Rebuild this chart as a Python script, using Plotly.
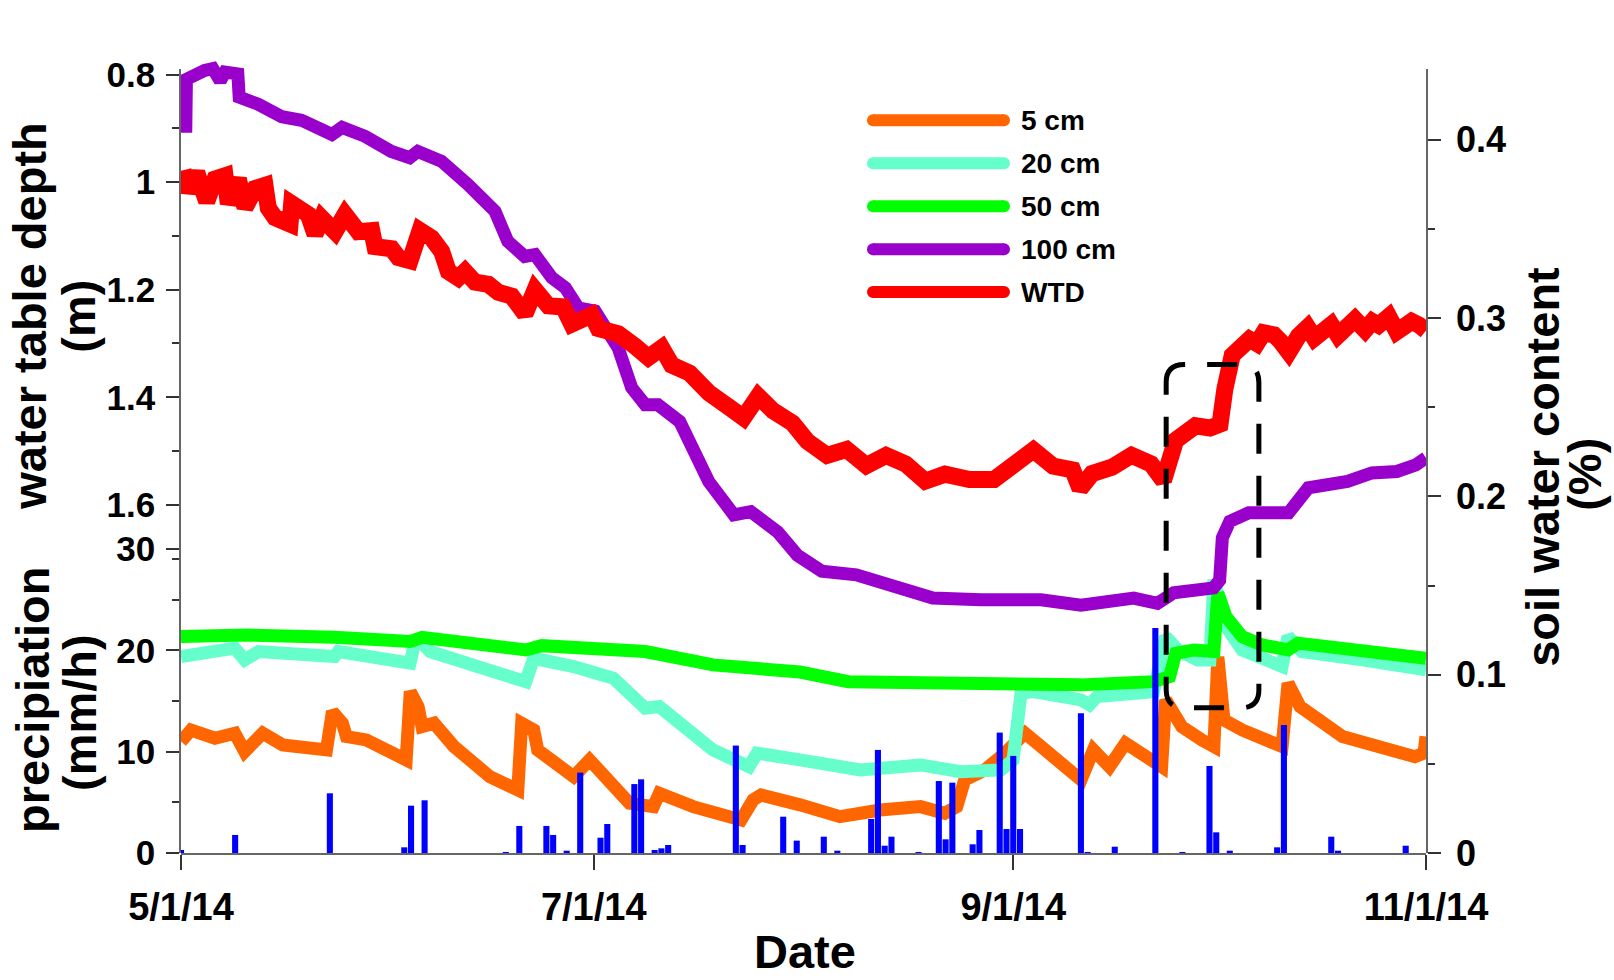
import plotly.graph_objects as go
import pandas as pd

# ---------------- data (x values are days since 2014-05-01) ----------------
START = pd.Timestamp("2014-05-01")
END = pd.Timestamp("2014-11-01")

swc5_day = [0, 1.48, 5.01, 7.95, 9.41, 12.08, 15.02, 21.5, 22.38, 23.85, 24.45, 27.39, 33.28, 33.88,
            35.04, 35.62, 37.39, 40.35, 45.65, 49.78, 50.35, 52.13, 52.72, 55.66, 58.03, 60.38, 66.27,
            69.81, 70.69, 75.69, 82.77, 84.54, 85.72, 91.49, 97.4, 103.31, 109.3, 112.86, 114.65,
            115.83, 118.8, 121.77, 124.74, 127.11, 133.02, 134.84, 137.22, 139.58, 142.55, 144.93,
            145.52, 147.9, 150.87, 152.65, 153.24, 154.14, 156.82, 162.73, 163.61, 165.39, 171.66,
            182.35, 183.7, 184.0]
swc5_val = [0.0625, 0.069, 0.0644, 0.0672, 0.0569, 0.0672, 0.0606, 0.0578, 0.0793, 0.0728, 0.0653,
            0.0634, 0.0522, 0.0905, 0.0821, 0.0709, 0.0728, 0.0597, 0.0428, 0.0354, 0.0728, 0.069,
            0.0578, 0.0503, 0.0428, 0.0522, 0.0279, 0.026, 0.0335, 0.026, 0.0185, 0.0297, 0.0325,
            0.027, 0.0204, 0.0241, 0.026, 0.0223, 0.026, 0.041, 0.0466, 0.056, 0.0672, 0.0597, 0.041,
            0.0578, 0.0484, 0.0616, 0.054, 0.0484, 0.0859, 0.0709, 0.0634, 0.0597, 0.110, 0.0746,
            0.069, 0.0597, 0.0952, 0.0821, 0.0653, 0.054, 0.056, 0.0653]

swc20_day = [0, 7.95, 9.41, 11.48, 22.67, 23.26, 33.85, 34.73, 36.8, 50.95, 52.13, 58.03, 63.91, 68.62,
             70.69, 78.63, 83.95, 85.13, 91.49, 100.4, 109.3, 115.24, 121.18, 122.97, 124.15, 125.92,
             133.02, 134.25, 135.38, 143.73, 145.52, 147.31, 150.27, 152.06, 152.65, 154.44, 156.82,
             162.73, 163.61, 165.68, 174.62, 184.0]
swc20_val = [0.1102, 0.1149, 0.1083, 0.113, 0.1102, 0.113, 0.1065, 0.1214, 0.113, 0.0961, 0.1092,
             0.1046, 0.098, 0.0812, 0.0821, 0.0578, 0.0484, 0.056, 0.0522, 0.0466, 0.0494, 0.0456,
             0.0466, 0.0522, 0.0896, 0.0905, 0.0859, 0.0831, 0.0877, 0.0905, 0.1214, 0.1139, 0.1083,
             0.1083, 0.1532, 0.127, 0.1139, 0.1046, 0.1214, 0.113, 0.1083, 0.1027]

swc50_day = [0, 7.95, 9.71, 22.67, 33.85, 35.62, 50.95, 53.31, 68.62, 78.63, 91.49, 98.61, 115.24,
             124.74, 133.02, 143.73, 146.11, 147.01, 149.67, 152.65, 153.24, 154.44, 156.82, 159.78,
             163.61, 165.09, 171.66, 177.6, 184.0]
swc50_val = [0.1214, 0.1236, 0.1223, 0.121, 0.1186, 0.121, 0.1139, 0.1163, 0.113, 0.1055, 0.1015,
             0.0961, 0.0952, 0.0943, 0.0943, 0.0961, 0.0989, 0.112, 0.1139, 0.113, 0.1457, 0.1326,
             0.1214, 0.1167, 0.1139, 0.1177, 0.1149, 0.112, 0.1092]

swc100_day = [0.7, 0.8, 3.5, 4.7, 5.8, 6.5, 8.4, 8.6, 11.4, 14.9, 17.8, 22.3, 23.8, 27.2, 31.1, 33.8,
              35.0, 38.5, 42.4, 46.4, 48.3, 50.8, 52.3, 54.8, 56.8, 58.7, 61.2, 64.6, 66.6, 68.6,
              70.5, 73.7, 78.0, 81.7, 84.2, 88.2, 91.1, 94.7, 99.8, 103.3, 111.1, 118.2, 127.1, 133.0,
              140.8, 144.3, 146.7, 152.6, 153.5, 153.9, 155.0, 157.8, 163.7, 166.6, 172.4, 176.0,
              179.7, 182.5, 184.0]
swc100_val = [0.404, 0.434, 0.439, 0.440, 0.433, 0.438, 0.437, 0.424, 0.420, 0.413, 0.411, 0.403,
              0.407, 0.402, 0.3935, 0.390, 0.3935, 0.388, 0.375, 0.360, 0.343, 0.3346, 0.3356, 0.3227,
              0.317, 0.3058, 0.304, 0.2834, 0.261, 0.2514, 0.2514, 0.242, 0.2083, 0.1897, 0.1915,
              0.180, 0.167, 0.158, 0.156, 0.1515, 0.143, 0.142, 0.142, 0.139, 0.143, 0.140, 0.146,
              0.1487, 0.153, 0.1768, 0.186, 0.1908, 0.1908, 0.2048, 0.2084, 0.2132, 0.214, 0.2177,
              0.2216]

wtd_day = [0.3, 1.08, 2.32, 3.8, 5.03, 6.5, 6.99, 8.47, 9.46, 10.94, 12.41, 12.9, 13.89, 16.11, 16.36,
           18.81, 19.81, 20.8, 22.76, 24.24, 26.2, 28.19, 28.67, 31.14, 32.12, 33.85, 35.32, 37.05,
           38.53, 39.51, 40.98, 41.97, 43.45, 45.42, 46.9, 48.88, 50.84, 52.32, 54.29, 56.5, 57.74,
           60.7, 61.68, 64.63, 67.1, 69.07, 71.05, 72.52, 75.16, 78.04, 80.96, 83.14, 85.31, 87.5,
           90.39, 92.57, 95.48, 98.37, 101.29, 104.2, 107.09, 109.99, 112.9, 116.52, 120.16, 123.06,
           125.97, 128.88, 131.78, 132.87, 134.64, 137.59, 140.48, 143.36, 145.2, 147.01, 149.93,
           152.08, 153.56, 154.27, 155.36, 157.91, 159.0, 160.0, 161.54, 162.5, 163.71, 165.16,
           166.5, 167.5, 168.78, 170.0, 171.0, 172.42, 173.5, 175.0, 176.06, 177.0, 178.5, 179.68,
           180.5, 181.87, 183.0, 184.0]
wtd_val = [0.978, 1.018, 0.982, 1.036, 0.994, 0.988, 1.040, 0.994, 1.047, 1.012, 1.006, 1.048, 1.066,
           1.078, 1.040, 1.060, 1.097, 1.067, 1.092, 1.060, 1.092, 1.090, 1.120, 1.124, 1.140, 1.146,
           1.090, 1.104, 1.129, 1.166, 1.178, 1.166, 1.186, 1.190, 1.205, 1.212, 1.245, 1.200, 1.230,
           1.232, 1.264, 1.247, 1.272, 1.282, 1.305, 1.326, 1.308, 1.340, 1.355, 1.392, 1.418, 1.438,
           1.398, 1.425, 1.448, 1.482, 1.508, 1.497, 1.527, 1.508, 1.524, 1.556, 1.543, 1.553, 1.553,
           1.521, 1.498, 1.528, 1.535, 1.570, 1.542, 1.530, 1.508, 1.524, 1.555, 1.480, 1.453, 1.457,
           1.450, 1.385, 1.322, 1.292, 1.300, 1.280, 1.284, 1.296, 1.316, 1.286, 1.270, 1.290,
           1.278, 1.265, 1.285, 1.271, 1.255, 1.275, 1.259, 1.266, 1.250, 1.278, 1.268, 1.259,
           1.266, 1.276]

precip_day = [0, 8, 22, 33, 34, 36, 48, 50, 54, 55, 57, 59, 62, 63, 67, 68, 70, 71, 72, 82, 83, 89, 91,
              95, 97, 102, 103, 104, 105, 109, 112, 113, 114, 117, 118, 121, 122, 123, 124, 133, 134,
              138, 144, 148, 152, 153, 155, 162, 163, 170, 171, 181]
precip_val = [0.3, 1.78, 5.89, 0.56, 4.67, 5.2, 0.1, 2.67, 2.67, 1.78, 0.23, 7.93, 1.51, 2.86, 6.8,
              7.27, 0.3, 0.46, 0.79, 10.6, 0.79, 3.58, 1.22, 1.61, 0.23, 3.36, 10.17, 0.72, 1.61, 0.1,
              7.1, 1.35, 6.94, 0.86, 2.27, 11.88, 2.37, 9.58, 2.37, 13.8, 0.1, 0.62, 22.2, 0.1, 8.59,
              2.04, 0.23, 0.56, 12.64, 1.61, 0.23, 0.72]

series_names = ["5 cm", "20 cm", "50 cm", "100 cm", "WTD"]
series_colors = ["#FF6600", "#66FFCC", "#00FF00", "#9900CC", "#FF0000"]
precip_color = "#0000FF"

x_tick_dates = ["2014-05-01", "2014-07-01", "2014-09-01", "2014-11-01"]
x_tick_text = ["5/1/14", "7/1/14", "9/1/14", "11/1/14"]
depth_ticks = [0.8, 1.0, 1.2, 1.4, 1.6]
depth_tick_text = ["0.8", "1", "1.2", "1.4", "1.6"]
precip_ticks = [0, 10, 20, 30]
swc_ticks = [0, 0.1, 0.2, 0.3, 0.4]
swc_tick_text = ["0", "0.1", "0.2", "0.3", "0.4"]

# highlighted period (dashed box): days since start and soil water content
box_day = [145.6, 159.3]
box_swc = [0.0814, 0.274]

# ---------------- layout geometry (pixels) ----------------
W, H = 1614, 980
X_LEFT, X_RIGHT = 181, 1426          # 5/1/14 and 11/1/14
Y_BOTTOM = 853                       # zero line of precipitation / soil water axes
SWC_PX_PER_UNIT = 1782.0
SWC_AXIS_TOP = 0.44                  # visible right axis
SWC_DATA_TOP = 0.456                 # room so thick lines are not clipped
DEPTH_TOP_Y, DEPTH_PX_PER_M = 75.0, 537.5   # 0.8 m at y=75
DEPTH_AXIS_TOP_Y = 69.5
DEPTH_BOTTOM = 1.7
PRECIP_PX_PER_UNIT = 10.13
PRECIP_TOP = 30

MT = Y_BOTTOM - SWC_DATA_TOP * SWC_PX_PER_UNIT
MB = H - Y_BOTTOM
ML, MR = X_LEFT, W - X_RIGHT
PW, PH = W - ML - MR, H - MT - MB


def frac(y_pixel):
    return (Y_BOTTOM - y_pixel) / PH


depth_top_val = 0.8 - (DEPTH_TOP_Y - DEPTH_AXIS_TOP_Y) / DEPTH_PX_PER_M
depth_bottom_y = DEPTH_TOP_Y + (DEPTH_BOTTOM - 0.8) * DEPTH_PX_PER_M
DEPTH_DOMAIN = [frac(depth_bottom_y), frac(DEPTH_AXIS_TOP_Y)]
DEPTH_RANGE = [DEPTH_BOTTOM, depth_top_val]
PRECIP_DOMAIN = [0, frac(Y_BOTTOM - PRECIP_TOP * PRECIP_PX_PER_UNIT)]
SWC_VIS_DOMAIN = [0, frac(Y_BOTTOM - SWC_AXIS_TOP * SWC_PX_PER_UNIT)]


def to_dates(days):
    return [START + pd.Timedelta(days=d) for d in days]


def px(x_pixel, y_pixel):
    return (x_pixel - ML) / PW, (Y_BOTTOM - y_pixel) / PH


FONT = "Liberation Sans, Arial, Helvetica, sans-serif"
fig = go.Figure()

swc_days = [swc5_day, swc20_day, swc50_day, swc100_day]
swc_vals = [swc5_val, swc20_val, swc50_val, swc100_val]
for i in range(4):
    fig.add_trace(go.Scatter(x=to_dates(swc_days[i]), y=swc_vals[i], mode="lines",
                             line=dict(color=series_colors[i], width=13),
                             name=series_names[i], yaxis="y", showlegend=False))

fig.add_trace(go.Scatter(x=to_dates(wtd_day), y=wtd_val, mode="lines",
                         line=dict(color=series_colors[4], width=17),
                         name="WTD", yaxis="y2", showlegend=False))

fig.add_trace(go.Bar(x=to_dates(precip_day), y=precip_val, width=0.9 * 86400000,
                     marker=dict(color=precip_color, line=dict(width=0)),
                     yaxis="y3", showlegend=False, name="precipitation"))

# empty trace that carries the visible soil-water axis
fig.add_trace(go.Scatter(x=[], y=[], yaxis="y4", showlegend=False, hoverinfo="skip"))

TICKC = "#333333"
axis_common = dict(showgrid=False, zeroline=False, showline=True, linecolor="#666666",
                   linewidth=1.5, ticks="outside", tickcolor=TICKC, tickwidth=1.5,
                   ticklen=13)


def minor(t0, dt):
    return dict(ticks="outside", ticklen=7, tickcolor=TICKC, tickwidth=1.5,
                tick0=t0, dtick=dt, showgrid=False)


fig.update_layout(
    width=W, height=H,
    margin=dict(l=ML, r=MR, t=MT, b=MB, autoexpand=False),
    paper_bgcolor="white", plot_bgcolor="rgba(0,0,0,0)",
    font=dict(family=FONT, color="black"),
    showlegend=False,
    xaxis=dict(type="date", range=[START, END], tickvals=x_tick_dates, ticktext=x_tick_text,
               anchor="y", tickfont=dict(size=38, weight="bold", family=FONT),
               ticklabelstandoff=5, **{**axis_common, "ticklen": 15}),
    yaxis=dict(range=[0, SWC_DATA_TOP], domain=[0, 1], anchor="x", visible=False,
               showgrid=False, zeroline=False),
    yaxis4=dict(side="right", range=[0, SWC_AXIS_TOP], domain=SWC_VIS_DOMAIN, anchor="x",
                tickvals=swc_ticks, ticktext=swc_tick_text,
                tickfont=dict(size=36, weight="bold", family=FONT), ticklabelstandoff=8,
                minor=minor(0, 0.05), **axis_common),
    yaxis2=dict(side="left", range=DEPTH_RANGE, domain=DEPTH_DOMAIN, anchor="x",
                tickvals=depth_ticks, ticktext=depth_tick_text,
                tickfont=dict(size=35, weight="bold", family=FONT), ticklabelstandoff=4,
                minor=minor(0.8, 0.1), **axis_common),
    yaxis3=dict(side="left", range=[0, PRECIP_TOP], domain=PRECIP_DOMAIN, anchor="x",
                tickvals=precip_ticks,
                tickfont=dict(size=35, weight="bold", family=FONT), ticklabelstandoff=4,
                minor=minor(0, 5), **axis_common),
)

# ---------------- titles ----------------
titles = [
    ("water table depth", 30, 316, -90),
    ("(m)", 79, 317, -90),
    ("precipiation", 33, 700, -90),
    ("(mm/h)", 80, 713, -90),
    ("soil water content", 1543, 467, -90),
    ("(%)", 1585, 475, -90),
    ("Date", 805, 951, 0),
]
for text, xp, yp, ang in titles:
    ax_, ay_ = px(xp, yp)
    fig.add_annotation(text=text, xref="paper", yref="paper", x=ax_, y=ay_,
                       xanchor="center", yanchor="middle", showarrow=False, textangle=ang,
                       borderpad=0,
                       font=dict(size=47, weight="bold", family=FONT, color="black"))

# ---------------- legend (drawn manually) ----------------
legend_rows_y = [120.7, 163.5, 206.5, 249.5, 292.3]
for name, color, yrow in zip(series_names, series_colors, legend_rows_y):
    x0, y0 = px(873, yrow)
    x1, _ = px(1004, yrow)
    fig.add_shape(type="line", xref="paper", yref="paper", x0=x0, x1=x1, y0=y0, y1=y0,
                  line=dict(color=color, width=12))
    for cx in (873, 1004):
        a0, b0 = px(cx - 6, yrow + 6)
        a1, b1 = px(cx + 6, yrow - 6)
        fig.add_shape(type="circle", xref="paper", yref="paper", x0=a0, x1=a1, y0=b0, y1=b1,
                      fillcolor=color, line=dict(width=0))
    tx, ty = px(1019, yrow)
    fig.add_annotation(text=name, xref="paper", yref="paper", x=tx, y=ty, xanchor="left",
                       yanchor="middle", showarrow=False,
                       font=dict(size=28, weight="bold", family=FONT, color="black"))

# ---------------- dashed rounded box ----------------
def day_to_px(d):
    return X_LEFT + d / (END - START).days * PW


def swc_to_px(v):
    return Y_BOTTOM - v * SWC_PX_PER_UNIT


L, R = day_to_px(box_day[0]), day_to_px(box_day[1])
T, B = swc_to_px(box_swc[1]), swc_to_px(box_swc[0])
r = 18


def P(xp, yp):
    a, b = px(xp, yp)
    return f"{a:.5f},{b:.5f}"


path = (f"M {P(L, T + r)} Q {P(L, T)} {P(L + r, T)} L {P(R - r, T)} Q {P(R, T)} {P(R, T + r)} "
        f"L {P(R, B - r)} Q {P(R, B)} {P(R - r, B)} L {P(L + r, B)} Q {P(L, B)} {P(L, B - r)} Z")
fig.add_shape(type="path", path=path, xref="paper", yref="paper",
              line=dict(color="black", width=5, dash="30px,22px"))

fig.write_html("out.html", config={"displayModeBar": False},
               post_script="document.body.style.margin='0';document.body.style.overflow='hidden';")
